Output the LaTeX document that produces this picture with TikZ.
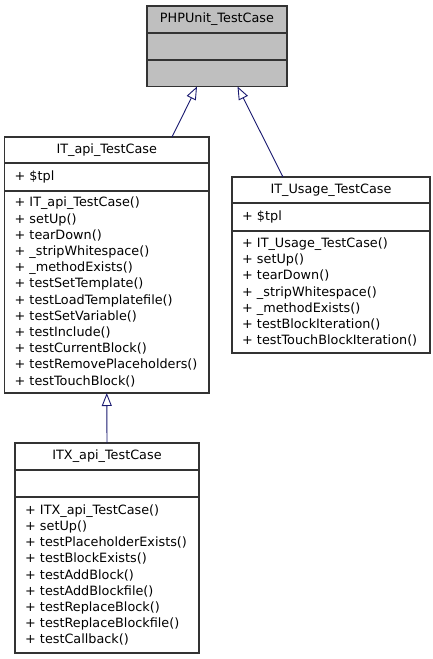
\documentclass[tikz,border=0pt]{standalone}
\usepackage{fontspec}
\setmainfont{DejaVu Sans}
\usetikzlibrary{positioning,arrows.meta}
\definecolor{edgeblue}{HTML}{191970}
\definecolor{basegray}{HTML}{BFBFBF}
\begin{document}
\begin{tikzpicture}[x=1pt, y=-1pt, node distance=0pt,
cls_part/.style={draw=black!80, line width=1.3pt, fill=white, inner xsep=10pt, inner ysep=0pt, outer sep=0pt, font=\fontsize{12.8}{16.2}\selectfont},
cls_title/.style={cls_part, align=center},
cls_list/.style={cls_part, align=left},
base_part/.style={cls_part, fill=basegray},
inherit/.style={draw=edgeblue, line width=0.9pt, -{Triangle[open, length=13pt, width=10pt, fill=white]}}]
    \useasboundingbox[fill=white] (0,0) rectangle (432,659);
    % Nodes
    \node (PHPUnit) [base_part, anchor=north west, minimum width=140pt, minimum height=27pt] at (147,6) {PHPUnit\_TestCase};
    \node (PHPUnit_attr) [below=of PHPUnit, base_part, minimum width=140pt, minimum height=27pt] {};
    \node (PHPUnit_ops) [below=of PHPUnit_attr, base_part, minimum width=140pt, minimum height=26.5pt] {};

    \node (ITapi) [cls_title, anchor=north west, minimum width=204.5pt, minimum height=26pt] at (4.5,137) {IT\_api\_TestCase};
    \node (ITapi_attr) [below=of ITapi, cls_list, text width=184.5pt, minimum height=28pt] {+ \$tpl};
    \node (ITapi_ops) [below=of ITapi_attr, cls_list, text width=184.5pt, minimum height=202pt] {+ IT\_api\_TestCase()\\ + setUp()\\ + tearDown()\\ + \_stripWhitespace()\\ + \_methodExists()\\ + testSetTemplate()\\ + testLoadTemplatefile()\\ + testSetVariable()\\ + testInclude()\\ + testCurrentBlock()\\ + testRemovePlaceholders()\\ + testTouchBlock()};

    \node (ITusage) [cls_title, anchor=north west, minimum width=198pt, minimum height=26pt] at (232,177) {IT\_Usage\_TestCase};
    \node (ITusage_attr) [below=of ITusage, cls_list, text width=178pt, minimum height=28pt] {+ \$tpl};
    \node (ITusage_ops) [below=of ITusage_attr, cls_list, text width=178pt, minimum height=122pt] {+ IT\_Usage\_TestCase()\\ + setUp()\\ + tearDown()\\ + \_stripWhitespace()\\ + \_methodExists()\\ + testBlockIteration()\\ + testTouchBlockIteration()};

    \node (ITXapi) [cls_title, anchor=north west, minimum width=184pt, minimum height=27pt] at (15,443) {ITX\_api\_TestCase};
    \node (ITXapi_attr) [below=of ITXapi, cls_part, minimum width=184pt, minimum height=27pt] {};
    \node (ITXapi_ops) [below=of ITXapi_attr, cls_list, text width=164pt, minimum height=156pt] {+ ITX\_api\_TestCase()\\ + setUp()\\ + testPlaceholderExists()\\ + testBlockExists()\\ + testAddBlock()\\ + testAddBlockfile()\\ + testReplaceBlock()\\ + testReplaceBlockfile()\\ + testCallback()};

    % Arrows
    \draw[inherit] ([xshift=65.25pt]ITapi.north) -- ([xshift=-20pt]PHPUnit_ops.south);
    \draw[inherit] ([xshift=-48pt]ITusage.north) -- ([xshift=20.5pt]PHPUnit_ops.south);
    \draw[inherit] (ITXapi.north) -- (ITapi_ops.south);
\end{tikzpicture}
\end{document}
